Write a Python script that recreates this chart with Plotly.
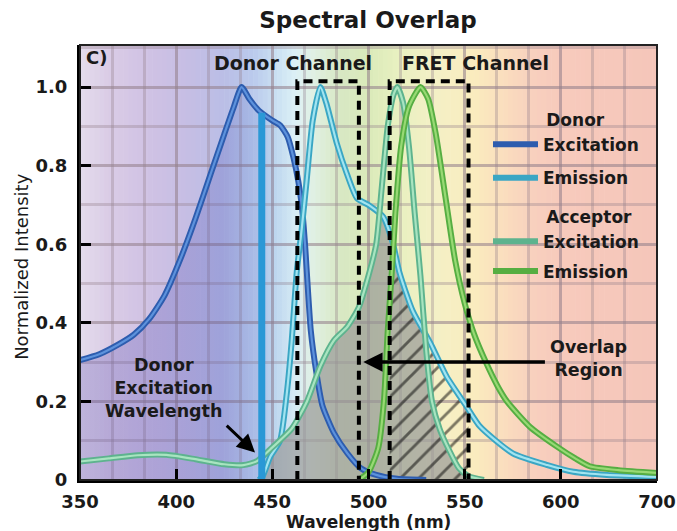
import numpy as np
import plotly.graph_objects as go

# ---------------- data ----------------
WL_DEX = [350, 360, 370, 378, 386, 394, 402, 410, 418, 425, 430, 434, 438, 443, 450, 454, 458, 461,
          463.5, 465.5, 467, 470, 473, 476, 482, 489, 496, 504, 515, 530]
DONOR_EXC = [0.305, 0.32, 0.345, 0.37, 0.41, 0.47, 0.56, 0.665, 0.78, 0.88, 0.95, 1.0, 0.97, 0.94,
             0.915, 0.903, 0.873, 0.82, 0.76, 0.69, 0.60, 0.38, 0.27, 0.19, 0.12, 0.068, 0.03, 0.013,
             0.003, 0.0]

WL_DEM = [443, 445, 449, 454, 457.5, 460, 462.7, 465.3, 467.8, 471, 475, 478, 483.5, 488.7, 494, 500,
          507.6, 512.8, 516, 523, 532, 540.7, 551, 558, 575, 593, 613, 648, 700]
DONOR_EM = [0.0, 0.01, 0.06, 0.10, 0.22, 0.35, 0.53, 0.64, 0.76, 0.915, 1.0, 0.96, 0.857, 0.78, 0.717,
            0.70, 0.67, 0.60, 0.53, 0.43, 0.35, 0.263, 0.187, 0.136, 0.068, 0.038, 0.021, 0.013, 0.008]

WL_AEX = [350, 365, 380, 395, 410, 425, 435, 442, 450, 460, 468, 475, 482, 489, 495, 500, 504, 507,
          510, 513, 515, 518, 521, 524, 527, 530, 533, 537, 542, 547, 552, 560]
ACC_EXC = [0.047, 0.055, 0.063, 0.064, 0.053, 0.04, 0.038, 0.048, 0.083, 0.13, 0.2, 0.29, 0.355, 0.39,
           0.44, 0.52, 0.6, 0.75, 0.9, 0.98, 1.0, 0.96, 0.85, 0.68, 0.52, 0.33, 0.2, 0.13, 0.075, 0.03,
           0.01, 0.0]

WL_AEM = [495, 500, 505, 508, 510, 512, 514, 517, 521, 527, 531, 535, 540, 545, 550, 555, 561, 567, 572,
          584, 598, 615, 630, 660, 700]
ACC_EM = [0.0, 0.02, 0.08, 0.2, 0.38, 0.52, 0.68, 0.85, 0.95, 1.0, 0.97, 0.88, 0.72, 0.56, 0.45, 0.37,
          0.3, 0.24, 0.2, 0.135, 0.085, 0.055, 0.035, 0.025, 0.018]

EXCITATION_WL = 444.5
DONOR_CHANNEL = [463, 495]
FRET_CHANNEL = [511, 552]

TICK_WL = [350, 400, 450, 500, 550, 600, 700]
TICK_TEXT = ["350", "400", "450", "500", "550", "600", "700"]
Y_TICKS = [0, 0.2, 0.4, 0.6, 0.8, 1.0]
Y_TICK_TEXT = ["0", "0.2", "0.4", "0.6", "0.8", "1.0"]


# axis is linear to 600 nm and compressed by half from 600 to 700 nm
def to_axis(w):
    w = np.asarray(w, dtype=float)
    return np.where(w <= 600, w, 600 + (w - 600) / 2)


FONT = "DejaVu Sans, Verdana, sans-serif"
INK = "#1a1a1a"
fig = go.Figure()

# ---------------- background spectrum ----------------
stops = [(350, (228, 220, 236)), (365, (218, 204, 230)), (385, (208, 194, 228)), (405, (198, 190, 228)),
         (425, (186, 190, 230)), (440, (186, 202, 236)), (452, (202, 224, 242)), (462, (220, 240, 246)),
         (472, (224, 240, 226)), (485, (216, 232, 196)), (500, (218, 234, 186)), (515, (232, 240, 192)),
         (535, (244, 240, 198)), (555, (250, 236, 190)), (570, (250, 222, 190)), (585, (248, 208, 190)),
         (600, (247, 202, 188)), (650, (245, 198, 186))]
sx = np.array([s[0] for s in stops], float)
sc = np.array([s[1] for s in stops], float)
edges = np.arange(350, 650.01, 2.5)
for a, b in zip(edges[:-1], edges[1:]):
    m = (a + b) / 2
    col = [int(round(np.interp(m, sx, sc[:, k]))) for k in range(3)]
    fig.add_shape(type="rect", xref="x", yref="paper", x0=a, x1=b + 0.3, y0=0, y1=1,
                  fillcolor=f"rgb({col[0]},{col[1]},{col[2]})", line_width=0, layer="below")

# ---------------- fills ----------------
fig.add_trace(go.Scatter(
    x=to_axis(WL_DEX), y=DONOR_EXC, mode="lines", line=dict(width=0, shape="spline", smoothing=0.6),
    fill="tozeroy",
    fillgradient=dict(type="horizontal", start=350, stop=470,
                      colorscale=[[0, "rgba(70,55,165,0.24)"], [0.62, "rgba(60,65,175,0.22)"],
                                  [0.85, "rgba(60,110,200,0.08)"], [1, "rgba(60,110,200,0)"]]),
    showlegend=False, hoverinfo="skip"))

# overlap region = min(donor emission, acceptor excitation)
ux = np.union1d(WL_DEM, WL_AEX)
ux = ux[(ux >= WL_DEM[0]) & (ux <= WL_AEX[-1])]
ov = np.minimum(np.interp(ux, WL_DEM, DONOR_EM), np.interp(ux, WL_AEX, ACC_EXC))
fig.add_trace(go.Scatter(x=to_axis(ux), y=ov, mode="lines", line=dict(width=0, shape="spline", smoothing=0.5),
                         fill="tozeroy", fillcolor="rgba(150,150,150,0.68)", showlegend=False, hoverinfo="skip"))

# hatched: donor emission inside FRET channel
hx = [FRET_CHANNEL[0]] + [w for w in WL_DEM if FRET_CHANNEL[0] < w < FRET_CHANNEL[1]] + [FRET_CHANNEL[1]]
hy = np.interp(hx, WL_DEM, DONOR_EM)
fig.add_trace(go.Scatter(x=to_axis(hx), y=hy, mode="lines", line=dict(width=0, shape="spline", smoothing=0.5),
                         fill="tozeroy", fillcolor="rgba(0,0,0,0)",
                         fillpattern=dict(shape="/", fgcolor="black", bgcolor="rgba(0,0,0,0)", size=13, solidity=0.22),
                         showlegend=False, hoverinfo="skip"))

# ---------------- curves ----------------
NB = "\u00a0"
gfont = dict(size=17, family=FONT, color=INK, weight="bold")
curves = [
    ("legend", "dex", NB * 9 + "Donor", "Excitation", WL_DEX, DONOR_EXC, "#2d5cae", "#5d92dc"),
    ("legend2", "dem", None, "Emission", WL_DEM, DONOR_EM, "#3aa6c4", "#a2e4f0"),
    ("legend3", "aex", NB * 9 + "Acceptor", "Excitation", WL_AEX, ACC_EXC, "#5db38e", "#a8e4c0"),
    ("legend4", "aem", None, "Emission", WL_AEM, ACC_EM, "#56ae42", "#98d974"),
]
for leg, grp, gtitle, name, wx, wy, outer, inner in curves:
    kw = dict(legendgrouptitle=dict(text=gtitle, font=gfont)) if gtitle else {}
    fig.add_trace(go.Scatter(x=to_axis(wx), y=wy, mode="lines", name=name, legend=leg, legendgroup=grp,
                             line=dict(color=outer, width=6, shape="spline", smoothing=0.6), hoverinfo="skip", **kw))
    fig.add_trace(go.Scatter(x=to_axis(wx), y=wy, mode="lines", legendgroup=grp, showlegend=False,
                             line=dict(color=inner, width=2.2, shape="spline", smoothing=0.6), hoverinfo="skip"))

# excitation wavelength bar
fig.add_trace(go.Scatter(x=to_axis([EXCITATION_WL, EXCITATION_WL]),
                         y=[0, float(np.interp(EXCITATION_WL, WL_DEX, DONOR_EXC))],
                         mode="lines", line=dict(color="#2a98d6", width=7), showlegend=False, hoverinfo="skip"))

# channel boxes
BOX_TOP = 1.015
for ch in (DONOR_CHANNEL, FRET_CHANNEL):
    fig.add_trace(go.Scatter(x=to_axis([ch[0], ch[0], ch[1], ch[1]]), y=[0, BOX_TOP, BOX_TOP, 0], mode="lines",
                             line=dict(color="black", width=4, dash="9px,6px"), showlegend=False, hoverinfo="skip"))

# ---------------- annotations ----------------
bold = dict(family=FONT, size=19, color=INK, weight="bold")
ann = dict(family=FONT, size=17.5, color=INK, weight="bold")
fig.add_annotation(x=352, y=1.075, text="C)", showarrow=False, xanchor="left", font=dict(family=FONT, size=18, color=INK, weight="bold"))
fig.add_annotation(x=461, y=1.06, text="Donor Channel", showarrow=False, font=bold)
fig.add_annotation(x=555.5, y=1.06, text="FRET Channel", showarrow=False, font=bold)
fig.add_annotation(x=393.5, y=0.235, text="Donor<br>Excitation<br>Wavelength", showarrow=False, font=ann)
fig.add_annotation(x=441, y=0.07, ax=425.5, ay=0.142, xref="x", yref="y", axref="x", ayref="y", text="",
                   showarrow=True, arrowhead=2, arrowsize=1.2, arrowwidth=3, arrowcolor="black")
fig.add_annotation(x=614.5, y=0.31, text="Overlap<br>Region", showarrow=False, font=ann)
fig.add_annotation(x=497.3, y=0.30, ax=592.5, ay=0.30, xref="x", yref="y", axref="x", ayref="y", text="",
                   showarrow=True, arrowhead=2, arrowsize=1.1, arrowwidth=3.5, arrowcolor="black")
# axis titles
fig.add_annotation(xref="paper", yref="paper", x=-0.1005, y=0.49, xanchor="center", yanchor="middle",
                   text="Normalized Intensity", textangle=-90,
                   showarrow=False, font=dict(family=FONT, size=18, color=INK))
fig.add_annotation(xref="paper", yref="paper", x=0.5, y=-0.0955, xanchor="center", yanchor="middle",
                   text="Wavelength (nm)", showarrow=False,
                   font=dict(family=FONT, size=17, color=INK, weight="bold"))

# frame (thin top/right)
fig.add_shape(type="rect", xref="paper", yref="paper", x0=0, x1=1, y0=0, y1=1,
              line=dict(color="#222", width=2), layer="above")

grid = "rgba(150,128,140,0.35)"
legend_common = dict(x=0.7071, xanchor="left", yanchor="top", bgcolor="rgba(0,0,0,0)", itemwidth=45,
                     font=dict(family=FONT, size=17, color=INK, weight="bold"))
fig.update_layout(
    width=677, height=531,
    margin=dict(l=80, r=20, t=45, b=51),
    paper_bgcolor="white", plot_bgcolor="rgba(0,0,0,0)",
    title=dict(text="<b>Spectral Overlap</b>", x=0.5435, xanchor="center", y=0.962, yanchor="middle",
               font=dict(family=FONT, size=23, color=INK)),
    legend=dict(y=0.870, **legend_common),
    legend2=dict(y=0.735, **legend_common),
    legend3=dict(y=0.647, **legend_common),
    legend4=dict(y=0.521, **legend_common),
    xaxis=dict(range=[350, 650], tickvals=to_axis(TICK_WL), ticktext=TICK_TEXT, automargin=False,
               ticks="inside", ticklen=11, tickwidth=3, tickcolor="black", ticklabelstandoff=3,
               showline=True, linewidth=3, linecolor="black",
               showgrid=True, gridcolor=grid, gridwidth=2.5,
               minor=dict(tick0=350, dtick=50 / 3, showgrid=True, gridcolor=grid, gridwidth=2.5, ticks=""),
               tickfont=dict(family=FONT, size=18, color=INK, weight="bold"),
               zeroline=False, fixedrange=True),
    yaxis=dict(range=[0, 1.107], tickvals=Y_TICKS, ticktext=Y_TICK_TEXT, automargin=False,
               ticks="inside", ticklen=11, tickwidth=3, tickcolor="black", ticklabelstandoff=6,
               showline=True, linewidth=3, linecolor="black",
               showgrid=True, gridcolor=grid, gridwidth=2.5,
               minor=dict(dtick=0.1, showgrid=True, gridcolor=grid, gridwidth=2.5, ticks=""),
               tickfont=dict(family=FONT, size=18, color=INK, weight="bold"),
               zeroline=False, fixedrange=True),
)

fig.write_html("out.html", config={"displayModeBar": False},
               post_script="document.body.style.margin='0px';")
